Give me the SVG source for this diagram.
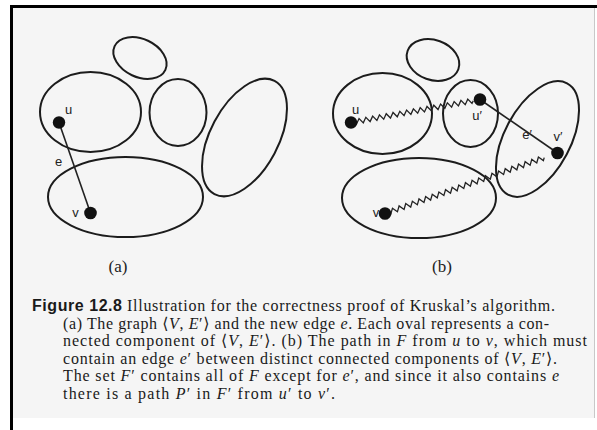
<svg xmlns="http://www.w3.org/2000/svg" width="597" height="430" viewBox="0 0 597 430">
<style>
.oval{fill:none;stroke:#1c1c1c;stroke-width:2}
.dot{fill:#111}
.edge{fill:none;stroke:#222;stroke-width:1.6}
.zz{fill:none;stroke:#222;stroke-width:1.3;stroke-linejoin:miter}
.lbl{font-family:"Liberation Sans",Arial,sans-serif;font-size:13px;fill:#222;text-anchor:middle}
.cap{font-family:"Liberation Serif","DejaVu Serif",serif;font-size:16px;fill:#1a1a1a}
.fig{font-family:"Liberation Sans",Arial,sans-serif;font-size:16px;font-weight:bold;fill:#1a1a1a}
.m{font-style:italic}
.sub{font-family:"Liberation Serif","DejaVu Serif",serif;font-size:17px;fill:#222;text-anchor:middle}
</style>
<rect x="0" y="0" width="597" height="430" fill="#ffffff"/>
<rect x="13" y="8" width="581" height="410" fill="#f5f5f5"/>
<line x1="594.5" y1="8" x2="594.5" y2="418" stroke="#c8c8c8" stroke-width="1"/>
<line x1="10" y1="6.5" x2="597" y2="6.5" stroke="#000" stroke-width="3"/>
<line x1="11.5" y1="5" x2="11.5" y2="430" stroke="#000" stroke-width="3"/>

<g id="panel-a">
  <g id="a-comp-top"><ellipse class="oval" cx="140" cy="58" rx="28" ry="19" transform="rotate(25 140 58)"/></g>
  <g id="a-comp-u"><ellipse class="oval" cx="90.5" cy="112" rx="50.5" ry="40"/></g>
  <g id="a-comp-mid"><ellipse class="oval" cx="178" cy="112.5" rx="28.5" ry="33.5"/></g>
  <g id="a-comp-right"><ellipse class="oval" cx="244.5" cy="137.5" rx="64" ry="34" transform="rotate(-62 244.5 137.5)"/></g>
  <g id="a-comp-v"><ellipse class="oval" cx="125.5" cy="197" rx="77.5" ry="40"/></g>
  <g id="a-connectors"><line class="edge" x1="59" y1="122.5" x2="90.5" y2="213"/></g>
  <g id="a-u"><circle class="dot" cx="59" cy="122.5" r="6.2"/><text class="lbl" x="68.5" y="114">u</text></g>
  <g id="a-v"><circle class="dot" cx="90.5" cy="213" r="6.3"/><text class="lbl" x="75.5" y="217">v</text></g>
  <text class="lbl" x="58.5" y="165.5">e</text>
  <text class="sub" x="118" y="272">(a)</text>
</g>

<g id="panel-b">
  <g id="b-comp-top"><ellipse class="oval" cx="433" cy="60" rx="27" ry="20" transform="rotate(20 433 60)"/></g>
  <g id="b-comp-u"><ellipse class="oval" cx="382.5" cy="113.5" rx="49.5" ry="40.5"/></g>
  <g id="b-comp-u2"><ellipse class="oval" cx="470.5" cy="113.5" rx="27.5" ry="33.5"/></g>
  <g id="b-comp-v2"><ellipse class="oval" cx="537.5" cy="139" rx="63" ry="33" transform="rotate(-62 537.5 139)"/></g>
  <g id="b-comp-v"><ellipse class="oval" cx="419" cy="198" rx="77" ry="40"/></g>
  <g id="b-connectors">
    <path class="zz" transform="translate(351 122.5) rotate(-10.1)" d="M0,0 l1.725,-2.5 l3.45,5 l1.725,-2.5 l1.725,-2.5 l3.45,5 l1.725,-2.5 l1.725,-2.5 l3.45,5 l1.725,-2.5 l1.725,-2.5 l3.45,5 l1.725,-2.5 l1.725,-2.5 l3.45,5 l1.725,-2.5 l1.725,-2.5 l3.45,5 l1.725,-2.5 l1.725,-2.5 l3.45,5 l1.725,-2.5 l1.725,-2.5 l3.45,5 l1.725,-2.5 l1.725,-2.5 l3.45,5 l1.725,-2.5 l1.725,-2.5 l3.45,5 l1.725,-2.5 l1.725,-2.5 l3.45,5 l1.725,-2.5 l1.725,-2.5 l3.45,5 l1.725,-2.5 l1.725,-2.5 l3.45,5 l1.725,-2.5 l1.725,-2.5 l3.45,5 l1.725,-2.5 l1.725,-2.5 l3.45,5 l1.725,-2.5 l1.725,-2.5 l3.45,5 l1.725,-2.5 l1.725,-2.5 l3.45,5 l1.725,-2.5 l1.725,-2.5 l3.45,5 l1.725,-2.5"/>
    <line class="edge" x1="480" y1="99.5" x2="557.5" y2="153"/>
    <path class="zz" transform="translate(385 213.5) rotate(-19.33)" d="M0,0 l1.76,-2.5 l3.51,5 l1.76,-2.5 l1.76,-2.5 l3.51,5 l1.76,-2.5 l1.76,-2.5 l3.51,5 l1.76,-2.5 l1.76,-2.5 l3.51,5 l1.76,-2.5 l1.76,-2.5 l3.51,5 l1.76,-2.5 l1.76,-2.5 l3.51,5 l1.76,-2.5 l1.76,-2.5 l3.51,5 l1.76,-2.5 l1.76,-2.5 l3.51,5 l1.76,-2.5 l1.76,-2.5 l3.51,5 l1.76,-2.5 l1.76,-2.5 l3.51,5 l1.76,-2.5 l1.76,-2.5 l3.51,5 l1.76,-2.5 l1.76,-2.5 l3.51,5 l1.76,-2.5 l1.76,-2.5 l3.51,5 l1.76,-2.5 l1.76,-2.5 l3.51,5 l1.76,-2.5 l1.76,-2.5 l3.51,5 l1.76,-2.5 l1.76,-2.5 l3.51,5 l1.76,-2.5 l1.76,-2.5 l3.51,5 l1.76,-2.5 l1.76,-2.5 l3.51,5 l1.76,-2.5 l1.76,-2.5 l3.51,5 l1.76,-2.5 l1.76,-2.5 l3.51,5 l1.76,-2.5 l1.76,-2.5 l3.51,5 l1.76,-2.5 l1.76,-2.5 l3.51,5 l1.76,-2.5 l1.76,-2.5 l3.51,5 l1.76,-2.5 l1.76,-2.5 l3.51,5 l1.76,-2.5"/>
  </g>
  <g id="b-u"><circle class="dot" cx="351" cy="122.5" r="6.2"/><text class="lbl" x="355.5" y="113.5">u</text></g>
  <g id="b-u2"><circle class="dot" cx="480" cy="99.5" r="6.3"/><text class="lbl" x="477" y="120">u′</text></g>
  <g id="b-v2"><circle class="dot" cx="557.5" cy="153" r="6.3"/><text class="lbl" x="558" y="141">v′</text></g>
  <g id="b-v"><circle class="dot" cx="385" cy="213.5" r="6.3"/><text class="lbl" x="376" y="217">v</text></g>
  <text class="lbl" x="527" y="139">e′</text>
  <text class="sub" x="442" y="272">(b)</text>
</g>

<g id="caption">
  <text class="fig" x="32" y="311" textLength="90">Figure 12.8</text>
  <text class="cap" x="127" y="311" textLength="428">Illustration for the correctness proof of Kruskal’s algorithm.</text>
  <text class="cap" x="63" y="328.5" textLength="486">(a) The graph ⟨<tspan class="m">V</tspan>, <tspan class="m">E</tspan>′⟩ and the new edge <tspan class="m">e</tspan>. Each oval represents a con-</text>
  <text class="cap" x="63" y="346" textLength="524">nected component of ⟨<tspan class="m">V</tspan>, <tspan class="m">E</tspan>′⟩. (b) The path in <tspan class="m">F</tspan> from <tspan class="m">u</tspan> to <tspan class="m">v</tspan>, which must</text>
  <text class="cap" x="63" y="363.5" textLength="494">contain an edge <tspan class="m">e</tspan>′ between distinct connected components of ⟨<tspan class="m">V</tspan>, <tspan class="m">E</tspan>′⟩.</text>
  <text class="cap" x="63" y="381" textLength="496">The set <tspan class="m">F</tspan>′ contains all of <tspan class="m">F</tspan> except for <tspan class="m">e</tspan>′, and since it also contains <tspan class="m">e</tspan></text>
  <text class="cap" x="63" y="398.5" textLength="272">there is a path <tspan class="m">P</tspan>′ in <tspan class="m">F</tspan>′ from <tspan class="m">u</tspan>′ to <tspan class="m">v</tspan>′.</text>
</g>
</svg>
